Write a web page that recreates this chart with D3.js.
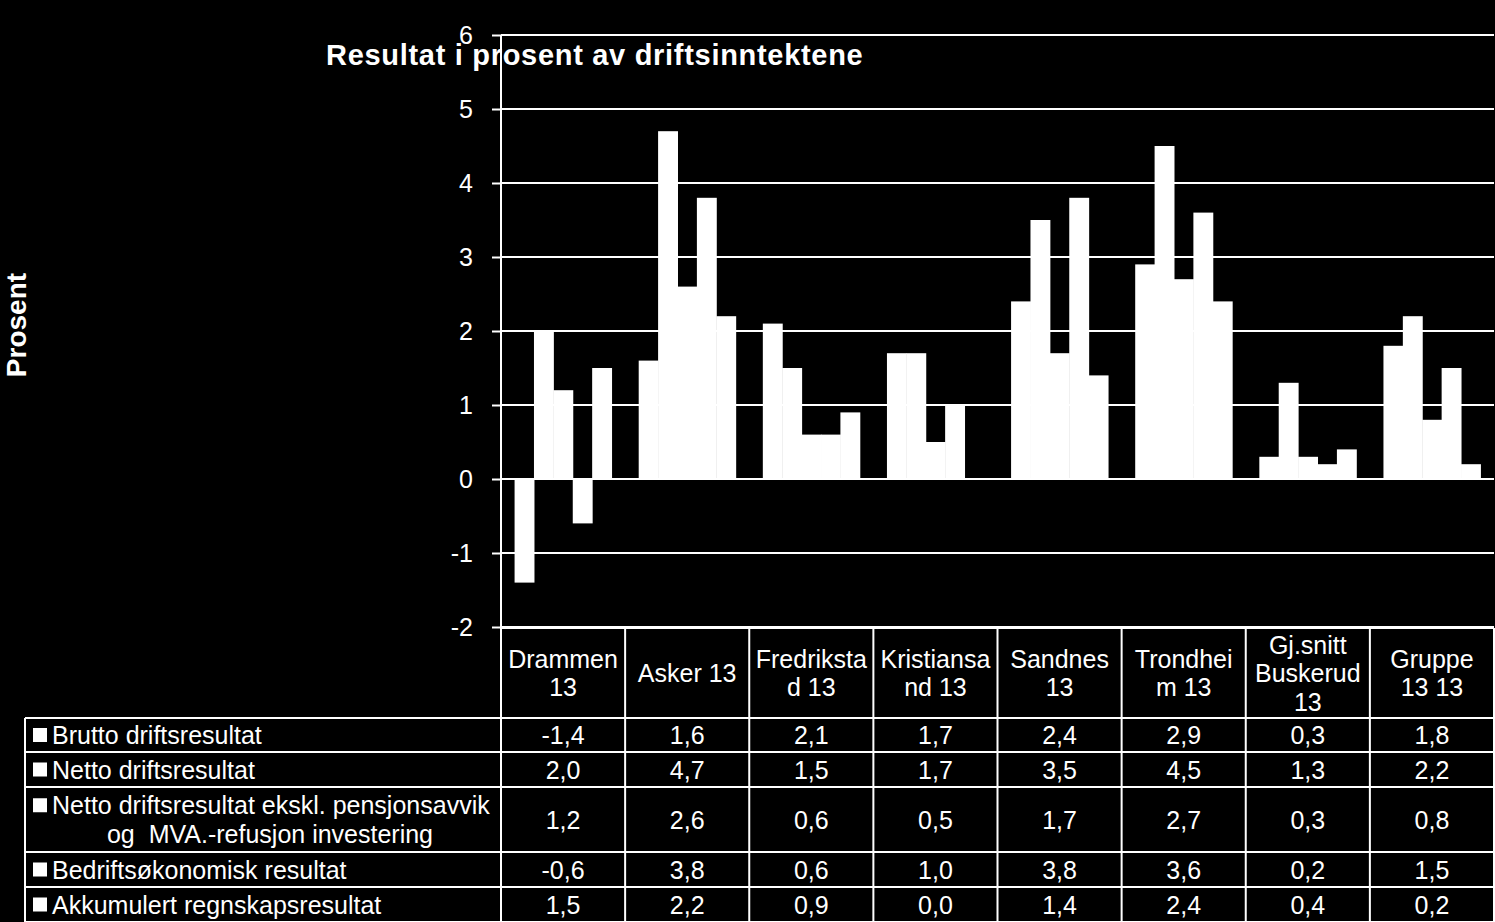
<!DOCTYPE html>
<html>
<head>
<meta charset="utf-8">
<script src="https://cdn.jsdelivr.net/npm/d3@7/dist/d3.min.js"></script>
<style>
  html, body { margin: 0; padding: 0; background: #000; }
  svg { display: block; }
  text { font-family: "Liberation Sans", Arial, sans-serif; fill: #fff; white-space: pre; }
</style>
</head>
<body>
<svg id="chart" width="1495" height="922"></svg>
<script>
// ---------- data ----------
const categories = ["Drammen 13", "Asker 13", "Fredrikstad 13", "Kristiansand 13", "Sandnes 13", "Trondheim 13", "Gj.snitt Buskerud 13", "Gruppe 13 13"];
const categoryLabelLines = [["Drammen", "13"], ["Asker 13"], ["Fredriksta", "d 13"], ["Kristiansa", "nd 13"], ["Sandnes", "13"], ["Trondhei", "m 13"], ["Gj.snitt", "Buskerud", "13"], ["Gruppe", "13 13"]];
const seriesNames = ["Brutto driftsresultat", "Netto driftsresultat", "Netto driftsresultat ekskl. pensjonsavvik og  MVA.-refusjon investering", "Bedriftsøkonomisk resultat", "Akkumulert regnskapsresultat"];
const seriesLabelLines = [["Brutto driftsresultat"], ["Netto driftsresultat"], ["Netto driftsresultat ekskl. pensjonsavvik", "og  MVA.-refusjon investering"], ["Bedriftsøkonomisk resultat"], ["Akkumulert regnskapsresultat"]];
const brutto      = [-1.4, 1.6, 2.1, 1.7, 2.4, 2.9, 0.3, 1.8];
const netto       = [2.0, 4.7, 1.5, 1.7, 3.5, 4.5, 1.3, 2.2];
const nettoEkskl  = [1.2, 2.6, 0.6, 0.5, 1.7, 2.7, 0.3, 0.8];
const bedrift     = [-0.6, 3.8, 0.6, 1.0, 3.8, 3.6, 0.2, 1.5];
const akkumulert  = [1.5, 2.2, 0.9, 0.0, 1.4, 2.4, 0.4, 0.2];
const seriesValues = [brutto, netto, nettoEkskl, bedrift, akkumulert];
const yTicks = [-2, -1, 0, 1, 2, 3, 4, 5, 6];
const titleText = "Resultat i prosent av driftsinntektene";
const yAxisTitle = "Prosent";

// ---------- layout ----------
const svg = d3.select("#chart");
const plotLeft = 501, plotRight = 1494, plotTop = 35, plotBottom = 627;
const tableLeft = 25;
const headerTop = 628, headerBottom = 718;
const rowEdges = [718, 752, 787, 852, 887, 922];
const fontSize = 25;

const locale = d3.formatLocale({decimal: ",", thousands: " ", grouping: [3], currency: ["", " kr"], minus: "-"});
const fmt = locale.format(".1f");

const x0 = d3.scaleBand().domain(categories).range([plotLeft, plotRight]).paddingInner(0).paddingOuter(0);
const x1 = d3.scaleBand().domain(d3.range(seriesNames.length)).range([0, x0.bandwidth()]).paddingInner(0).paddingOuter(0.7);
const y = d3.scaleLinear().domain([-2, 6]).range([plotBottom, plotTop]);

// gridlines
svg.append("g").selectAll("line").data(yTicks).join("line")
  .attr("x1", plotLeft).attr("x2", plotRight)
  .attr("y1", d => y(d)).attr("y2", d => y(d))
  .attr("stroke", "#fff").attr("stroke-width", 2);

// bars
const barData = [];
seriesValues.forEach((vals, si) => vals.forEach((v, ci) => barData.push({si, ci, v})));
svg.append("g").selectAll("rect").data(barData).join("rect")
  .attr("x", d => x0(categories[d.ci]) + x1(d.si))
  .attr("width", x1.bandwidth() + 0.5)
  .attr("y", d => Math.min(y(d.v), y(0)))
  .attr("height", d => Math.abs(y(d.v) - y(0)))
  .attr("fill", "#fff");

// y axis
const yAxis = d3.axisLeft(y).tickValues(yTicks).tickSize(9).tickPadding(19).tickFormat(locale.format("d"));
const ga = svg.append("g").attr("transform", `translate(${plotLeft},0)`).call(yAxis);
ga.select(".domain").attr("stroke", "#fff").attr("stroke-width", 2).attr("d", `M0,${plotTop}V${plotBottom}`);
ga.selectAll(".tick line").attr("stroke", "#fff").attr("stroke-width", 2);
ga.selectAll(".tick text").attr("fill", "#fff").style("font-size", "25px")
  .style("font-family", '"Liberation Sans", Arial, sans-serif');

// title
svg.append("text").attr("x", 326).attr("y", 65)
  .style("font-size", "29px").style("font-weight", "bold").style("letter-spacing", "0.7px").text(titleText);

// y axis title
svg.append("text").attr("transform", "translate(26,325) rotate(-90)")
  .attr("text-anchor", "middle")
  .style("font-size", "28px").style("font-weight", "bold").text(yAxisTitle);

// ---------- data table ----------
const tg = svg.append("g");
const line = (xa, ya, xb, yb) => tg.append("line").attr("x1", xa).attr("y1", ya).attr("x2", xb).attr("y2", yb)
  .attr("stroke", "#fff").attr("stroke-width", 2);

line(plotLeft, headerTop, plotRight, headerTop);
rowEdges.forEach(ry => line(tableLeft, ry, plotRight, ry));
const colEdges = categories.map(c => x0(c)).concat([plotRight]);
colEdges.forEach(cx => line(cx, headerTop, cx, 922));
line(tableLeft, headerBottom, tableLeft, 922);

// header labels
const lh = 28.5;
categories.forEach((c, ci) => {
  const lines = categoryLabelLines[ci];
  const cx = x0(c) + x0.bandwidth() / 2;
  const mid = (headerTop + headerBottom) / 2;
  lines.forEach((l, li) => {
    tg.append("text").attr("x", cx)
      .attr("y", mid + (li - (lines.length - 1) / 2) * lh + fontSize * 0.36)
      .attr("text-anchor", "middle").style("font-size", fontSize + "px").text(l);
  });
});

// rows
seriesNames.forEach((s, si) => {
  const top = rowEdges[si], bot = rowEdges[si + 1];
  const mid = (top + bot) / 2;
  const lines = seriesLabelLines[si];
  const firstY = mid - (lines.length - 1) / 2 * lh;
  tg.append("rect").attr("x", 33).attr("y", firstY - 7).attr("width", 14).attr("height", 14).attr("fill", "#fff");
  lines.forEach((l, li) => {
    const t = tg.append("text").attr("y", firstY + li * lh + fontSize * 0.36).style("font-size", fontSize + "px").text(l);
    if (li === 0) t.attr("x", 52);
    else t.attr("x", 270).attr("text-anchor", "middle");
  });
  seriesValues[si].forEach((v, ci) => {
    tg.append("text").attr("x", x0(categories[ci]) + x0.bandwidth() / 2)
      .attr("y", mid + fontSize * 0.36).attr("text-anchor", "middle")
      .style("font-size", fontSize + "px").text(fmt(v));
  });
});
</script>
</body>
</html>
